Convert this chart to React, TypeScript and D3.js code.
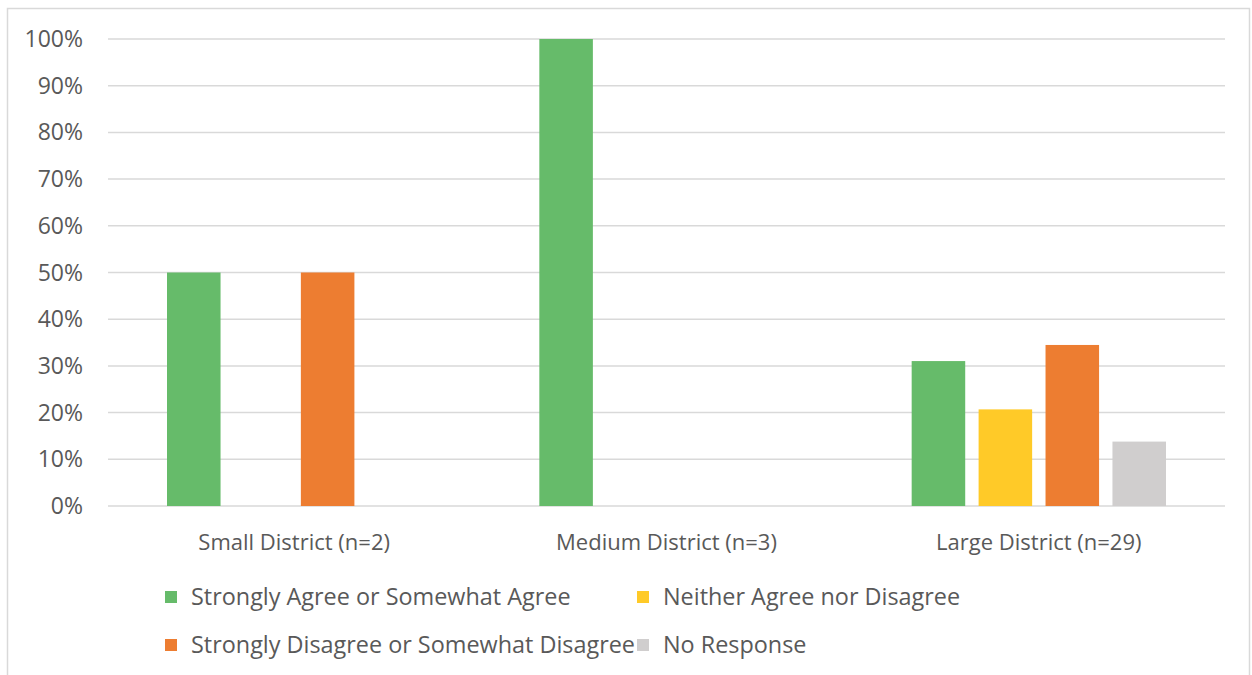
import React from "react";
import * as d3 from "d3";

const categories = ["Small District (n=2)", "Medium District (n=3)", "Large District (n=29)"];
const seriesNames = [
  "Strongly Agree or Somewhat Agree",
  "Neither Agree nor Disagree",
  "Strongly Disagree or Somewhat Disagree",
  "No Response",
];
const seriesColors = ["#66BB6A", "#FFCA28", "#ED7D31", "#D0CECE"];
// Share of respondents per category, in series order
const agreeValues = [0.5, 1.0, 9 / 29];
const neitherValues = [0, 0, 6 / 29];
const disagreeValues = [0.5, 0, 10 / 29];
const noResponseValues = [0, 0, 4 / 29];
const yTicks = [0, 0.1, 0.2, 0.3, 0.4, 0.5, 0.6, 0.7, 0.8, 0.9, 1.0];

const W = 1252;
const H = 675;
const plot = { left: 108, right: 1225, top: 39, bottom: 506 };
const FONT = "'Open Sans', 'Noto Sans', sans-serif";
const TEXT = "#595959";

export default function App() {
  const series = [agreeValues, neitherValues, disagreeValues, noResponseValues];
  const x0 = d3.scaleBand<string>().domain(categories).range([plot.left, plot.right]).paddingInner(0).paddingOuter(0);
  const x1 = d3
    .scaleBand<number>()
    .domain(d3.range(series.length))
    .range([59, x0.bandwidth() - 59])
    .paddingInner(0.2);
  const y = d3.scaleLinear().domain([0, 1]).range([plot.bottom, plot.top]);
  const pct = d3.format(".0%");

  const legendItems = [
    { i: 0, x: 165, y: 597 },
    { i: 1, x: 637, y: 597 },
    { i: 2, x: 165, y: 645 },
    { i: 3, x: 637, y: 645 },
  ];

  return (
    <svg
      width={W}
      height={H}
      style={{ position: "absolute", left: 0, top: 0, background: "#fff" }}
      fontFamily={FONT}
    >
      <rect x={7.5} y={8.5} width={1242} height={700} fill="#fff" stroke="#D9D9D9" strokeWidth={1.5} />
      {yTicks.map((t) => (
        <g key={t}>
          <line x1={plot.left} x2={plot.right} y1={y(t)} y2={y(t)} stroke="#D9D9D9" strokeWidth={1.5} />
          <text x={83} y={y(t)} dy="0.35em" textAnchor="end" fontSize={23} fill={TEXT}>
            {pct(t)}
          </text>
        </g>
      ))}
      {categories.map((c, ci) => (
        <g key={c} transform={`translate(${x0(c)},0)`}>
          {series.map((vals, si) =>
            vals[ci] > 0 ? (
              <rect
                key={si}
                x={x1(si)}
                y={y(vals[ci])}
                width={x1.bandwidth()}
                height={y(0) - y(vals[ci])}
                fill={seriesColors[si]}
              />
            ) : null
          )}
          <text x={x0.bandwidth() / 2} y={542} dy="0.35em" textAnchor="middle" fontSize={22} fill={TEXT}>
            {c}
          </text>
        </g>
      ))}
      {legendItems.map(({ i, x, y: ly }) => (
        <g key={i}>
          <rect x={x} y={ly - 6} width={12} height={12} fill={seriesColors[i]} />
          <text x={x + 26} y={ly} dy="0.35em" fontSize={23.4} fill={TEXT}>
            {seriesNames[i]}
          </text>
        </g>
      ))}
    </svg>
  );
}
